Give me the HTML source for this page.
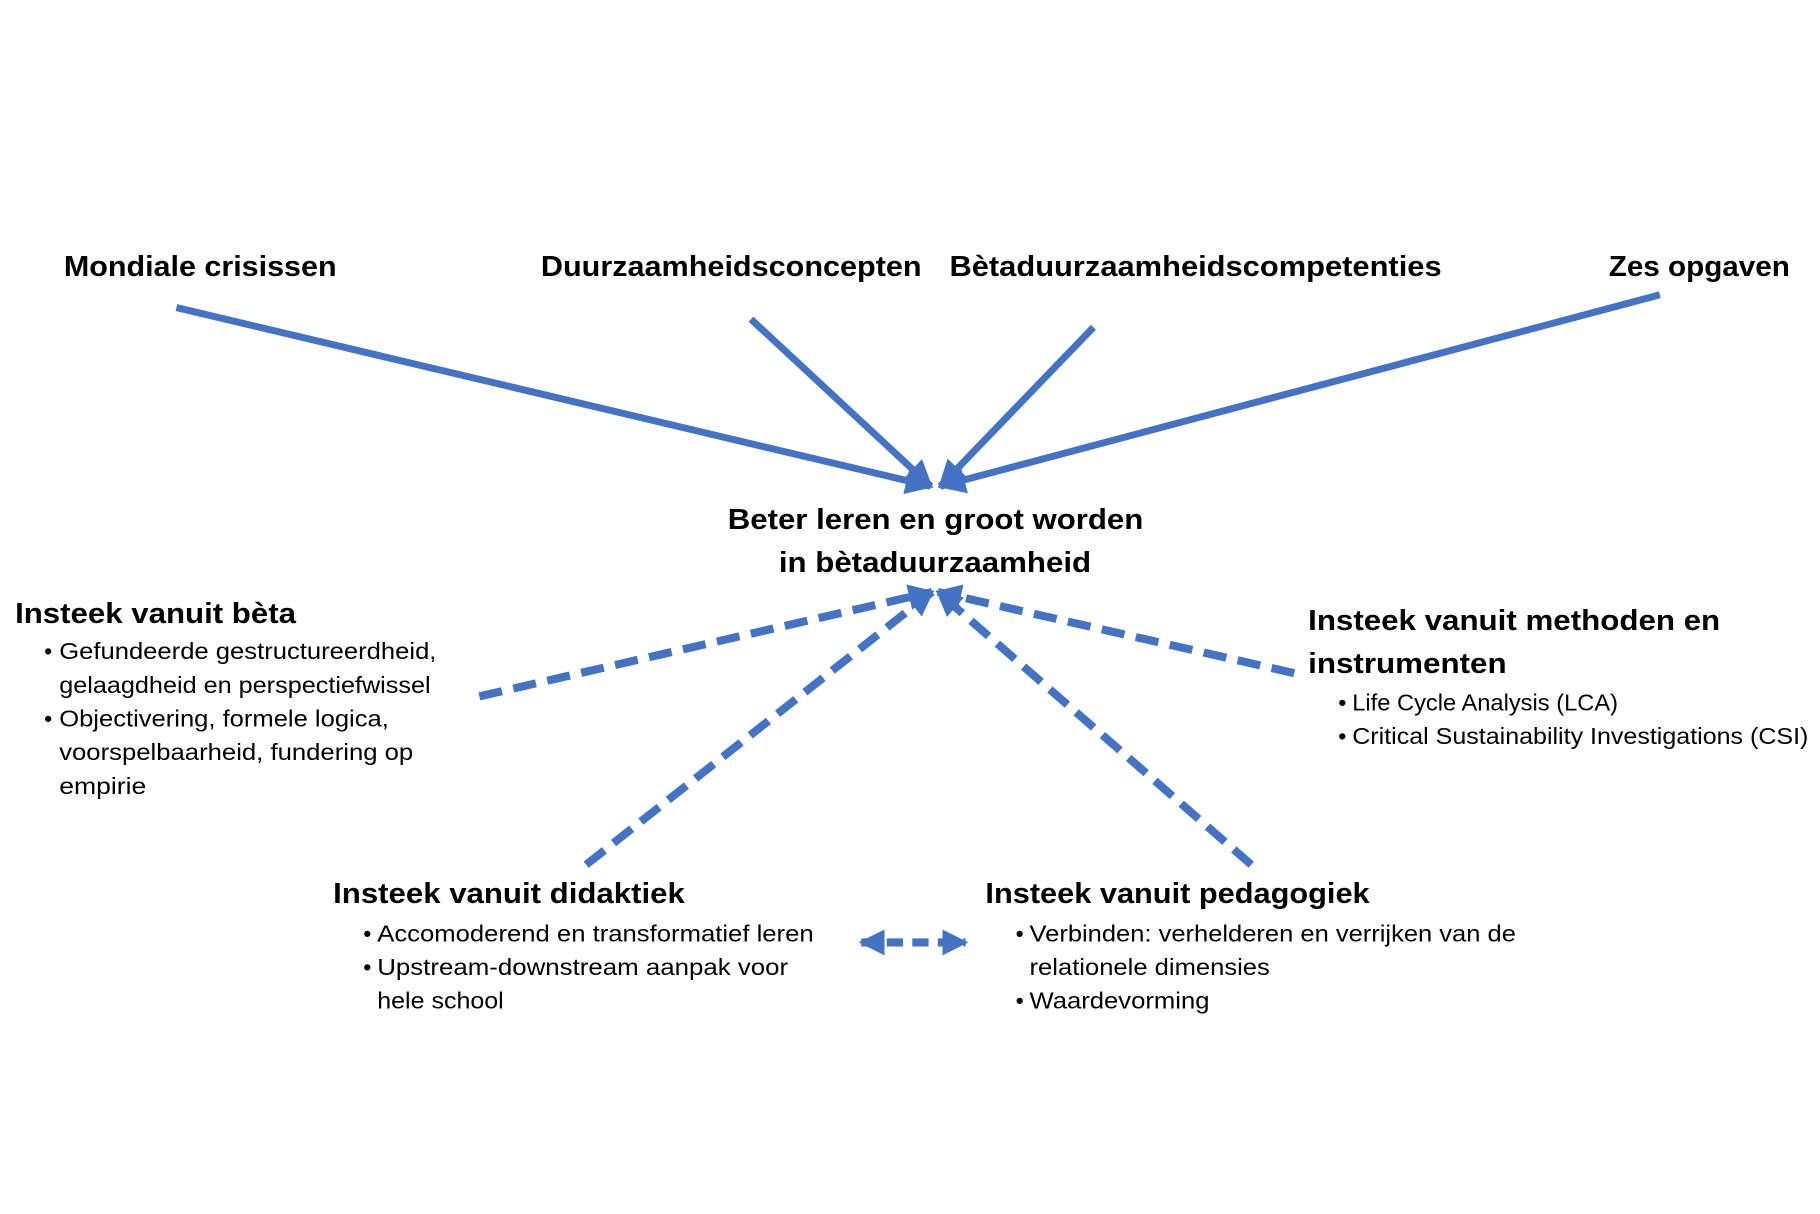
<!DOCTYPE html>
<html><head><meta charset="utf-8"><style>html,body{margin:0;padding:0;background:#fff}svg{display:block}</style></head>
<body>
<svg width="1820" height="1214" viewBox="0 0 1568 1046" preserveAspectRatio="none" xmlns="http://www.w3.org/2000/svg" font-family="'Liberation Sans', sans-serif">
<defs>
<marker id="ah" viewBox="0 0 10 10" refX="9" refY="5" markerWidth="4" markerHeight="4" orient="auto" markerUnits="strokeWidth"><path d="M0,0 L10,5 L0,10 z" fill="#4472C4"/></marker>
<marker id="ah2" viewBox="0 0 10 10" refX="9" refY="5" markerWidth="3.2" markerHeight="3.2" orient="auto" markerUnits="strokeWidth"><path d="M0,0 L10,5 L0,10 z" fill="#4472C4"/></marker>
<marker id="as" viewBox="0 0 10 10" refX="1" refY="5" markerWidth="3.2" markerHeight="3.2" orient="auto" markerUnits="strokeWidth"><path d="M10,0 L0,5 L10,10 z" fill="#4472C4"/></marker>
</defs>
<g stroke="#4472C4" stroke-width="6" fill="none">
<line x1="152" y1="265" x2="802" y2="419" marker-end="url(#ah)"/>
<line x1="647" y1="275" x2="802" y2="419" marker-end="url(#ah)"/>
<line x1="942" y1="282" x2="810" y2="419" marker-end="url(#ah)"/>
<line x1="1430" y1="254" x2="810" y2="419" marker-end="url(#ah)"/>
</g>
<g stroke="#4472C4" stroke-width="7" fill="none" stroke-dasharray="20 10">
<line x1="413" y1="600" x2="803" y2="510" marker-end="url(#ah2)"/>
<line x1="505" y1="745" x2="803" y2="510" marker-end="url(#ah2)"/>
<line x1="1078" y1="745" x2="808" y2="510" marker-end="url(#ah2)"/>
<line x1="1115" y1="580" x2="808" y2="510" marker-end="url(#ah2)"/>
<line x1="742" y1="812" x2="832" y2="812" stroke-dasharray="14 8" marker-start="url(#as)" marker-end="url(#ah2)"/>
</g>
<g font-weight="bold" font-size="25" fill="#000" lengthAdjust="spacingAndGlyphs">
<text x="55" y="238" textLength="235" lengthAdjust="spacingAndGlyphs">Mondiale crisissen</text>
<text x="466" y="238" textLength="328" lengthAdjust="spacingAndGlyphs">Duurzaamheidsconcepten</text>
<text x="818" y="238" textLength="424" lengthAdjust="spacingAndGlyphs">Bètaduurzaamheidscompetenties</text>
<text x="1386" y="238" textLength="156" lengthAdjust="spacingAndGlyphs">Zes opgaven</text>
<text x="627" y="456" textLength="358" lengthAdjust="spacingAndGlyphs">Beter leren en groot worden</text>
<text x="671" y="493" textLength="269" lengthAdjust="spacingAndGlyphs">in bètaduurzaamheid</text>
<text x="13" y="537" textLength="242" lengthAdjust="spacingAndGlyphs">Insteek vanuit bèta</text>
<text x="1127" y="543" textLength="355" lengthAdjust="spacingAndGlyphs">Insteek vanuit methoden en</text>
<text x="1127" y="580" textLength="171" lengthAdjust="spacingAndGlyphs">instrumenten</text>
<text x="287" y="778" textLength="303" lengthAdjust="spacingAndGlyphs">Insteek vanuit didaktiek</text>
<text x="849" y="778" textLength="331" lengthAdjust="spacingAndGlyphs">Insteek vanuit pedagogiek</text>
</g>
<g font-size="20" fill="#000">
<text x="38" y="568">•</text><text x="51" y="568" textLength="325" lengthAdjust="spacingAndGlyphs">Gefundeerde gestructureerdheid,</text>
<text x="51" y="597" textLength="320" lengthAdjust="spacingAndGlyphs">gelaagdheid en perspectiefwissel</text>
<text x="38" y="626">•</text><text x="51" y="626" textLength="284" lengthAdjust="spacingAndGlyphs">Objectivering, formele logica,</text>
<text x="51" y="655" textLength="305" lengthAdjust="spacingAndGlyphs">voorspelbaarheid, fundering op</text>
<text x="51" y="684" textLength="75" lengthAdjust="spacingAndGlyphs">empirie</text>
<text x="1153" y="612">•</text><text x="1165" y="612" textLength="229" lengthAdjust="spacingAndGlyphs">Life Cycle Analysis (LCA)</text>
<text x="1153" y="641">•</text><text x="1165" y="641" textLength="393" lengthAdjust="spacingAndGlyphs">Critical Sustainability Investigations  (CSI)</text>
<text x="313" y="811">•</text><text x="325" y="811" textLength="376" lengthAdjust="spacingAndGlyphs">Accomoderend en transformatief leren</text>
<text x="313" y="840">•</text><text x="325" y="840" textLength="354" lengthAdjust="spacingAndGlyphs">Upstream-downstream aanpak  voor</text>
<text x="325" y="869" textLength="109" lengthAdjust="spacingAndGlyphs">hele school</text>
<text x="875" y="811">•</text><text x="887" y="811" textLength="419" lengthAdjust="spacingAndGlyphs">Verbinden: verhelderen en verrijken van de</text>
<text x="887" y="840" textLength="207" lengthAdjust="spacingAndGlyphs">relationele dimensies</text>
<text x="875" y="869">•</text><text x="887" y="869" textLength="155" lengthAdjust="spacingAndGlyphs">Waardevorming</text>
</g>
</svg>
</body></html>
